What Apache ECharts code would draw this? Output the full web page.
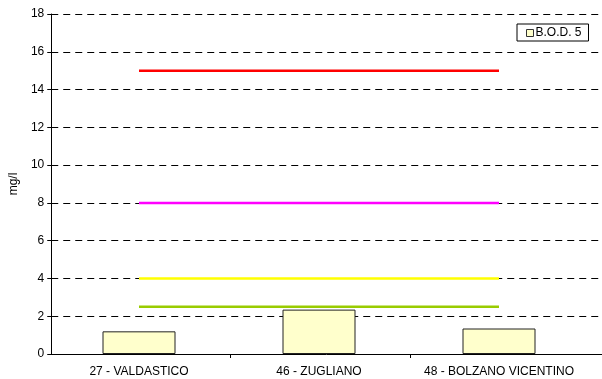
<!DOCTYPE html>
<html>
<head>
<meta charset="utf-8">
<script src="https://cdn.jsdelivr.net/npm/echarts@6/dist/echarts.min.js"></script>
<style>
  html, body { margin: 0; padding: 0; background: #fff; }
  #chart { width: 602px; height: 379px; }
</style>
</head>
<body>
<div id="chart"></div>
<script>
// Monitoring stations
var categories = ['27 - VALDASTICO', '46 - ZUGLIANO', '48 - BOLZANO VICENTINO'];
// B.O.D. 5 measured values (mg/l)
var bod5 = [1.2, 2.35, 1.35];
// Reference thresholds (mg/l)
var limitGreen = [2.5, 2.5, 2.5];
var limitYellow = [4, 4, 4];
var limitMagenta = [8, 8, 8];
var limitRed = [15, 15, 15];
// Y axis range
var yMin = 0, yMax = 18, yStep = 2;

var font = '"Liberation Sans", Arial, sans-serif';
var chart = echarts.init(document.getElementById('chart'), null, { renderer: 'canvas' });

function limitSeries(name, data, color) {
  return {
    name: name, type: 'line', xAxisIndex: 1, yAxisIndex: 1,
    data: data, symbol: 'none', silent: true,
    lineStyle: { color: color, width: 2.5 }, z: 3
  };
}

chart.setOption({
  animation: false,
  backgroundColor: '#fff',
  textStyle: { fontFamily: font },
  grid: [
    { left: 49, right: 0, top: 14, bottom: 25 },
    { left: 49, right: 13, top: 14, bottom: 25 }
  ],
  legend: {
    data: ['B.O.D. 5'],
    left: 517, top: 24,
    padding: [3, 7, 2, 9],
    borderColor: '#000', borderWidth: 1,
    itemWidth: 7, itemHeight: 7, itemGap: 4,
    icon: 'rect',
    itemStyle: { borderWidth: 1, borderColor: '#333' },
    textStyle: { fontSize: 12, color: '#000', fontFamily: font, padding: [0, 0, 0, -3] }
  },
  xAxis: [
    {
      type: 'value', gridIndex: 0, min: 0, max: 553 / 180, interval: 1,
      axisLine: { show: true, lineStyle: { color: '#000', width: 1 } },
      axisTick: { show: true, length: 4, customValues: [1, 2], lineStyle: { color: '#000' } },
      axisLabel: { show: false },
      splitLine: { show: false }
    },
    {
      type: 'category', gridIndex: 1, data: categories, boundaryGap: true,
      axisLine: { show: false },
      axisTick: { show: false },
      axisLabel: { interval: 0, hideOverlap: false, margin: 12, fontSize: 12, color: '#000', fontFamily: font },
      splitLine: { show: false }
    }
  ],
  yAxis: [
    {
      type: 'value', gridIndex: 0, min: yMin, max: yMax, interval: yStep,
      name: 'mg/l', nameLocation: 'middle', nameGap: 28, nameRotate: 90,
      nameTextStyle: { fontSize: 12, color: '#000', fontFamily: font },
      axisLine: { show: true, lineStyle: { color: '#000', width: 1 } },
      axisTick: { show: true, length: 4, lineStyle: { color: '#000' } },
      axisLabel: { margin: 7, fontSize: 12, color: '#000', fontFamily: font },
      splitLine: { show: true, lineStyle: { color: '#000', type: [7, 5], width: 1 } }
    },
    {
      type: 'value', gridIndex: 1, min: yMin, max: yMax, interval: yStep, show: false,
      splitLine: { show: false }
    }
  ],
  series: [
    {
      name: 'B.O.D. 5', type: 'bar', xAxisIndex: 1, yAxisIndex: 1,
      data: bod5, barWidth: 73,
      itemStyle: { color: '#FFFFCC', borderColor: '#222', borderWidth: 1 }, z: 2
    },
    limitSeries('limit 2.5', limitGreen, '#99CC00'),
    limitSeries('limit 4', limitYellow, '#FFFF00'),
    limitSeries('limit 8', limitMagenta, '#FF00FF'),
    limitSeries('limit 15', limitRed, '#FF0000')
  ]
});
</script>
</body>
</html>
